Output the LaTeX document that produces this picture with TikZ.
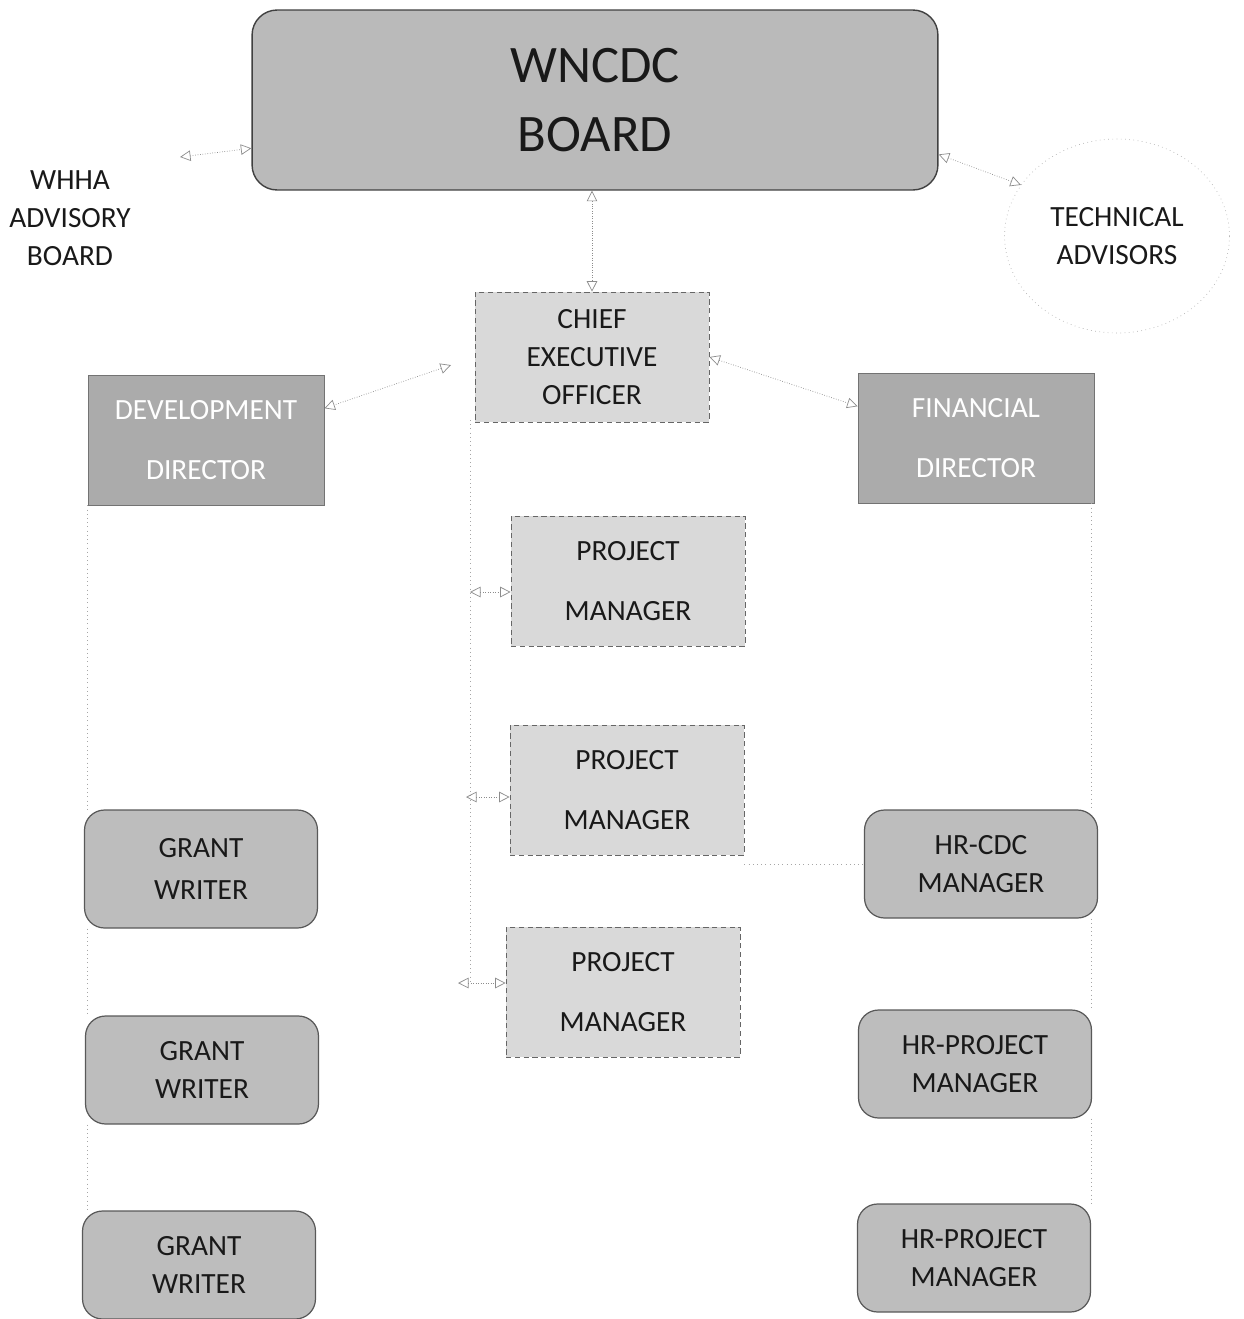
\documentclass[tikz,border=0pt]{standalone}
\usepackage{fontspec}
\setmainfont{Carlito}
\usetikzlibrary{arrows.meta, shapes.geometric}

\begin{document}
\begin{tikzpicture}[x=0.02cm, y=-0.02cm,
  every node/.style={text=black!90, align=center},
  boardbox/.style={draw=black!75, line width=0.8pt, rounded corners=0.5cm, fill=black!27, minimum width=13.72cm, minimum height=3.6cm, font=\fontsize{30}{39}\selectfont},
  plainbox/.style={draw=black!60, densely dashed, fill=black!15, minimum width=4.68cm, minimum height=2.6cm, font=\fontsize{16.7}{34}\selectfont},
  darkbox/.style={draw=black!55, fill=black!33, text=white, minimum width=4.72cm, minimum height=2.6cm, font=\fontsize{16.7}{34}\selectfont},
  roundbox/.style={draw=black!65, line width=0.7pt, rounded corners=0.4cm, fill=black!26, minimum width=4.66cm, minimum height=2.16cm, font=\fontsize{16.7}{21.5}\selectfont},
  twoway/.style={draw=black!45, densely dotted, {Triangle[open, length=6pt, width=6pt]}-{Triangle[open, length=6pt, width=6pt]}},
  link/.style={draw=black!35, dotted}]
\useasboundingbox (0,0) rectangle (1244,1319);

% top level
\node[boardbox] (board) at (595,100) {WNCDC\\BOARD};
\node[font=\fontsize{16.7}{21.5}\selectfont] (whha) at (70,218) {WHHA\\ADVISORY\\BOARD};
\node[ellipse, draw=black!30, dotted, minimum width=4.5cm, minimum height=3.88cm, font=\fontsize{16.7}{21.5}\selectfont] (tech) at (1117,236) {TECHNICAL\\ADVISORS};
\coordinate (whhaend) at (180,157);

% officers
\node[plainbox, font=\fontsize{16.7}{21.5}\selectfont] (ceo) at (592,357) {CHIEF\\EXECUTIVE\\OFFICER};
\node[darkbox] (dev) at (206,440) {DEVELOPMENT\\DIRECTOR};
\node[darkbox] (fin) at (976,438) {FINANCIAL\\DIRECTOR};

% project managers
\node[plainbox] (pm1) at (628,581) {PROJECT\\MANAGER};
\node[plainbox] (pm2) at (627,790) {PROJECT\\MANAGER};
\node[plainbox] (pm3) at (623,992) {PROJECT\\MANAGER};

% grant writers
\node[roundbox, minimum height=2.36cm, font=\fontsize{16.7}{23.8}\selectfont] (gw1) at (201,869) {GRANT\\WRITER};
\node[roundbox] (gw2) at (202,1070) {GRANT\\WRITER};
\node[roundbox] (gw3) at (199,1265) {GRANT\\WRITER};

% hr managers
\node[roundbox] (hr1) at (981,864) {HR-CDC\\MANAGER};
\node[roundbox] (hr2) at (975,1064) {HR-PROJECT\\MANAGER};
\node[roundbox] (hr3) at (974,1258) {HR-PROJECT\\MANAGER};

% spine to the project managers
\coordinate (spinetop) at (470,420);
\coordinate (s1) at (470,592);
\coordinate (s2) at (466,797);
\coordinate (s3) at (458,983);

\draw[twoway] (whhaend) -- (board.188);
\draw[twoway] (board.-9.4) -- (tech.152);
\draw[twoway] (ceo.north |- board.south) -- (ceo.north);
\draw[twoway, shorten <=0.5cm] (ceo.west) -- (dev.15);
\draw[twoway] (ceo.east) -- (fin.165);

\draw[link] (spinetop) -- (spinetop |- s3);
\draw[twoway] (s1) -- (pm1.west |- s1);
\draw[twoway] (s2) -- (pm2.west |- s2);
\draw[twoway] (s3) -- (pm3.west |- s3);
\draw[link] (pm2.east |- hr1.west) -- (hr1.west);

\draw[link] (dev.south west) -- (dev.south west |- gw1.north);
\draw[link] (dev.south west |- gw1.south) -- (dev.south west |- gw2.north);
\draw[link] (dev.south west |- gw2.south) -- (dev.south west |- gw3.north);
\draw[link] ([xshift=-0.06cm]fin.south east) -- ([xshift=-0.06cm]fin.south east |- hr1.north);
\draw[link] ([xshift=-0.06cm]fin.south east |- hr1.south) -- ([xshift=-0.06cm]fin.south east |- hr2.north);
\draw[link] ([xshift=-0.06cm]fin.south east |- hr2.south) -- ([xshift=-0.06cm]fin.south east |- hr3.north);
\end{tikzpicture}
\end{document}
